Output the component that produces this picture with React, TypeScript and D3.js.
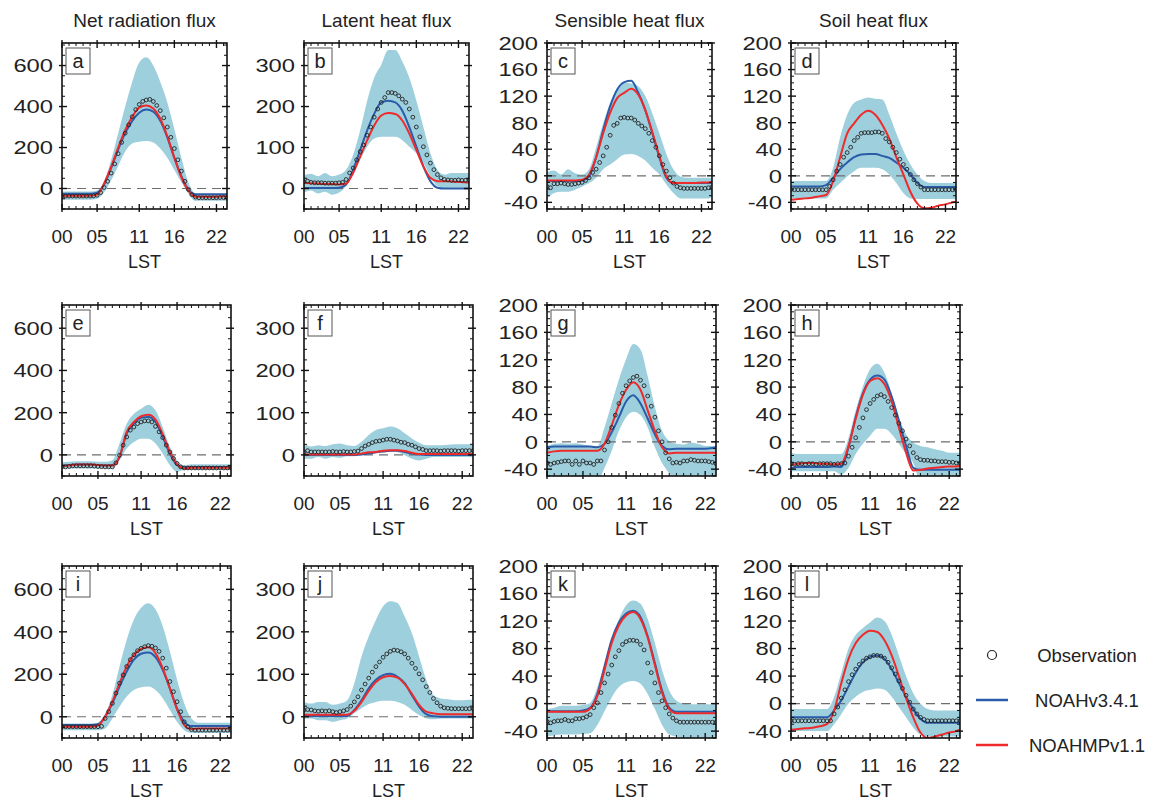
import React from 'react';
import * as d3 from 'd3';

// ---------- categories / ticks ----------
const HALF_HOURS = d3.range(48).map((i) => i / 2);
const HOURS = [...d3.range(24), 23.5];
const X_TICKS = [0, 5, 11, 16, 22];
const X_TICK_LABELS = ['00', '05', '11', '16', '22'];
const TITLES = ['Net radiation flux', 'Latent heat flux', 'Sensible heat flux', 'Soil heat flux'];
const Y_DOMAINS = [[-100, 710], [-50, 355], [-50, 200], [-50, 200]];
const Y_TICKS = [[0, 200, 400, 600], [0, 100, 200, 300], [-40, 0, 40, 80, 120, 160, 200], [-40, 0, 40, 80, 120, 160, 200]];
const Y_MINOR_STEP = [50, 25, 10, 10];
const LEGEND_LABELS = ['Observation', 'NOAHv3.4.1', 'NOAHMPv1.1'];
const PANEL_LETTERS = ['a', 'b', 'c', 'd', 'e', 'f', 'g', 'h', 'i', 'j', 'k', 'l'];

// ---------- data (hourly model/band: 0..23, 23.5; obs half-hourly) ----------
const aUp = [-15,-15,-15,-15,-15,-10,35,140,270,400,520,615,640,600,520,420,290,150,30,-25,-30,-30,-30,-30,-30];
const aLo = [-55,-55,-55,-55,-55,-50,-20,40,110,180,220,228,232,225,195,150,90,30,-25,-60,-60,-60,-60,-60,-60];
const aBlue = [-25,-25,-25,-25,-25,-20,20,100,190,270,330,370,385,375,330,250,150,60,-5,-28,-28,-28,-28,-28,-28];
const aRed = [-35,-35,-35,-35,-35,-30,25,105,200,285,350,395,405,390,340,255,150,55,-10,-40,-40,-40,-40,-38,-38];
const aObs = [-37,-37,-37,-37,-37,-37,-37,-37,-37,-36,-33,-20,5,35,75,120,170,225,270,310,350,385,410,425,432,435,425,405,380,345,300,250,195,140,85,35,-5,-30,-42,-45,-45,-45,-45,-45,-45,-44,-44,-44];

const bUp = [32,36,30,38,30,34,46,82,142,214,270,302,338,338,310,270,214,150,86,46,34,38,38,38,38];
const bLo = [-10,-5,-12,-8,-15,-10,6,38,70,102,122,126,126,126,118,102,86,62,30,6,2,2,2,2,2];
const bBlue = [1,1,1,1,1,2,10,46,94,142,182,210,214,210,190,150,102,54,18,2,0,0,0,0,0];
const bRed = [14,13,12,11,11,10,12,38,78,118,154,178,184,182,166,134,94,54,26,18,18,17,16,15,14];
const bObs = [16,18,15,14,14,14,13,13,13,13,14,15,22,38,50,70,90,106,130,150,174,194,210,222,234,234,232,226,218,210,194,174,150,126,102,82,62,46,34,26,22,21,20,20,21,20,20,21];

const cUp = [5,8,2,10,4,2,10,43,79,110,130,140,139,135,120,94,64,33,10,-1,-3,-3,-3,-3,-3];
const cLo = [-34,-26,-24,-24,-21,-16,-11,-3,10,17,25,32,33,30,23,12,2,-13,-26,-34,-34,-34,-34,-34,-31];
const cBlue = [-8,-8,-8,-8,-8,-7,-1,28,69,105,130,141,143,125,99,64,28,-3,-11,-11,-11,-11,-11,-11,-10];
const cRed = [-7,-7,-7,-7,-7,-6,2,28,64,95,117,125,131,122,99,66,30,-1,-11,-11,-11,-11,-10,-10,-9];
const cObs = [-16,-18,-12,-12,-11,-12,-13,-13,-12,-11,-10,-7,-3,5,10,20,30,43,61,76,79,87,88,87,87,84,79,75,71,64,53,43,30,17,7,-3,-11,-16,-18,-19,-19,-19,-19,-19,-19,-19,-18,-17];

const dUp = [-8,-8,-8,-8,-8,-8,12,58,92,110,115,118,116,115,92,64,38,17,2,-8,-11,-11,-11,-11,-11];
const dLo = [-34,-34,-34,-34,-34,-34,-21,-11,-1,7,12,12,12,10,2,-11,-26,-34,-35,-35,-35,-35,-35,-35,-35];
const dBlue = [-16,-16,-16,-16,-16,-14,-3,10,20,28,32,33,33,30,27,20,12,2,-11,-17,-17,-17,-17,-17,-17];
const dRed = [-36,-35,-34,-33,-31,-29,-8,28,64,79,92,98,92,77,56,28,2,-24,-42,-49,-48,-45,-43,-40,-39];
const dObs = [-21,-21,-21,-21,-21,-21,-21,-21,-21,-21,-21,-16,-6,7,17,28,35,43,53,58,64,65,65,65,66,66,64,56,51,43,35,25,17,10,2,-6,-12,-17,-21,-21,-21,-21,-21,-21,-21,-21,-21,-21];

const eUp = [-35,-32,-30,-30,-30,-32,-33,-25,54,148,195,219,238,211,132,38,-25,-49,-44,-44,-44,-44,-44,-44,-44];
const eLo = [-65,-65,-65,-65,-65,-65,-65,-65,-25,30,61,77,77,54,6,-49,-80,-72,-72,-72,-72,-72,-72,-72,-72];
const eBlue = [-50,-48,-45,-45,-45,-48,-49,-48,-10,101,148,176,180,156,85,6,-49,-60,-57,-57,-57,-57,-57,-57,-57];
const eRed = [-52,-50,-45,-45,-45,-48,-50,-50,-8,109,156,183,190,167,98,14,-44,-65,-61,-61,-61,-61,-61,-61,-61];
const eObs = [-57,-57,-55,-52,-52,-52,-52,-52,-52,-53,-55,-56,-57,-57,-57,-38,-2,46,85,117,132,148,156,161,161,156,135,109,82,46,14,-17,-41,-57,-62,-62,-62,-62,-62,-62,-62,-62,-62,-62,-62,-62,-62,-62];

const fUp = [27,20,23,21,25,27,23,21,31,47,59,63,67,63,51,39,29,23,23,23,24,25,25,25,25];
const fLo = [-9,-9,-5,-9,-5,-7,-3,-3,-1,3,7,10,11,7,-1,-9,-13,-9,-5,-5,-5,-5,-5,-5,-7];
const fBlue = [0,0,0,0,0,0,0,0,1,3,6,8,10,10,7,3,1,0,0,0,0,0,0,0,0];
const fRed = [1,1,1,1,1,1,1,1,3,6,7,10,11,11,9,5,2,2,2,2,2,2,2,2,2];
const fObs = [7,10,7,7,7,7,7,7,8,7,7,8,7,7,8,9,15,21,25,29,32,33,35,37,37,35,33,30,29,25,23,19,15,13,10,10,10,10,9,10,10,10,10,9,10,10,10,10];

const gUp = [-6,-3,-2,-3,-2,-4,-6,-6,21,56,91,121,143,135,96,51,16,1,-3,-4,-1,-3,-6,-6,-6];
const gLo = [-58,-58,-58,-58,-58,-58,-58,-58,-38,-13,16,36,44,39,21,-8,-31,-46,-58,-58,-58,-58,-58,-58,-58];
const gBlue = [-8,-7,-7,-7,-7,-7,-7,-8,-3,14,36,59,68,56,34,11,-6,-11,-10,-10,-10,-10,-10,-9,-8];
const gRed = [-16,-14,-13,-13,-13,-13,-13,-13,-3,24,54,76,87,76,46,16,-8,-17,-16,-16,-16,-16,-16,-16,-16];
const gObs = [-31,-33,-31,-30,-29,-28,-28,-33,-28,-33,-28,-31,-31,-33,-28,-28,-12,0,21,39,56,71,82,89,94,96,90,82,67,52,36,16,0,-16,-25,-31,-30,-31,-28,-28,-26,-27,-28,-28,-28,-29,-30,-32];

const hUp = [-16,-18,-18,-18,-18,-18,-18,-18,6,46,81,106,114,101,71,36,11,-1,-6,-8,-11,-13,-16,-16,-16];
const hLo = [-43,-43,-43,-43,-43,-43,-43,-48,-38,-18,-3,9,19,19,11,-3,-18,-31,-58,-58,-58,-58,-58,-58,-58];
const hBlue = [-39,-37,-37,-37,-37,-37,-36,-37,-8,36,71,91,97,91,66,31,-6,-38,-41,-41,-41,-41,-41,-41,-41];
const hRed = [-34,-32,-31,-31,-32,-32,-33,-32,-6,34,69,89,93,84,59,21,-16,-42,-41,-39,-38,-37,-36,-36,-35];
const hObs = [-32,-33,-32,-32,-33,-32,-32,-33,-32,-32,-32,-32,-33,-32,-32,-31,-21,-8,6,21,35,47,56,62,67,69,66,59,50,39,27,16,4,-6,-16,-23,-26,-27,-27,-28,-28,-29,-29,-29,-30,-30,-31,-31];

const iUp = [-32,-32,-32,-32,-32,-28,16,103,237,363,458,513,534,506,427,308,174,63,-8,-28,-28,-28,-28,-28,-28];
const iLo = [-63,-63,-63,-63,-63,-63,-55,-8,47,95,126,139,142,126,87,32,-24,-63,-76,-76,-76,-76,-76,-76,-76];
const iBlue = [-39,-39,-39,-39,-39,-35,0,63,142,213,269,297,303,281,221,134,39,-24,-44,-44,-44,-44,-44,-44,-44];
const iRed = [-47,-47,-47,-47,-47,-41,0,71,158,237,292,319,327,300,229,134,35,-39,-58,-55,-55,-55,-55,-55,-55];
const iObs = [-47,-47,-47,-47,-47,-47,-47,-47,-47,-47,-47,-45,-8,24,63,111,158,197,237,269,292,311,322,330,335,332,324,308,276,229,166,118,71,24,-24,-47,-60,-63,-63,-63,-63,-63,-63,-63,-63,-63,-63,-63];

const jUp = [35,31,35,35,28,31,39,79,142,189,228,260,272,268,236,197,142,87,51,43,41,39,39,40,40];
const jLo = [-4,-4,-8,-8,-12,-8,-4,8,20,30,35,38,38,35,28,16,4,-4,-6,-4,-4,-4,-4,-4,-4];
const jBlue = [2,2,2,2,2,2,2,16,39,67,87,98,101,94,79,51,24,6,1,0,0,0,0,0,0];
const jRed = [5,5,5,5,5,5,5,14,35,61,82,93,96,92,77,54,28,12,8,6,6,6,6,6,6];
const jObs = [16,17,16,14,13,14,13,14,12,10,12,14,17,25,35,47,63,77,91,105,118,129,140,148,154,157,156,153,148,138,126,114,101,87,71,57,43,33,25,21,20,19,19,19,19,19,19,19];

const kUp = [-8,-6,-3,-3,-3,-2,1,24,59,93,123,143,150,145,123,88,49,19,4,0,-1,-1,-1,-1,-1];
const kLo = [-48,-46,-45,-45,-45,-44,-43,-31,-11,9,24,31,33,29,14,-8,-31,-45,-48,-50,-50,-50,-50,-50,-50];
const kBlue = [-11,-11,-11,-11,-11,-10,-6,14,54,93,118,131,135,126,98,59,19,-6,-12,-12,-12,-12,-12,-12,-12];
const kRed = [-12,-12,-12,-12,-12,-12,-7,11,49,88,114,128,133,123,96,56,16,-8,-14,-14,-14,-14,-14,-14,-14];
const kObs = [-26,-28,-26,-25,-25,-23,-25,-25,-22,-22,-21,-19,-16,-6,1,16,30,43,56,68,77,86,90,92,92,91,86,78,59,45,30,16,4,-6,-15,-21,-25,-27,-27,-27,-27,-27,-27,-27,-27,-27,-27,-27];

const lUp = [-8,-8,-8,-8,-8,-8,10,45,80,100,110,118,125,120,100,70,40,15,0,-8,-10,-10,-10,-10,-10];
const lLo = [-40,-40,-40,-40,-40,-40,-30,-15,0,10,17,20,22,20,10,-5,-20,-35,-45,-48,-48,-48,-48,-48,-48];
const lBlue = [-20,-20,-20,-20,-20,-20,-10,5,25,45,60,68,70,65,50,30,10,-8,-22,-28,-28,-28,-28,-28,-28];
const lRed = [-38,-37,-36,-35,-33,-30,-10,30,65,88,100,106,104,92,70,40,8,-20,-42,-50,-48,-45,-42,-40,-38];
const lObs = [-25,-25,-25,-25,-25,-25,-25,-25,-25,-25,-25,-25,-15,-5,8,20,32,42,50,57,62,66,68,70,70,69,66,60,52,43,33,22,12,2,-8,-15,-20,-23,-25,-25,-25,-25,-25,-25,-25,-25,-25,-25];

const SERIES = [
  [aUp, aLo, aBlue, aRed, aObs], [bUp, bLo, bBlue, bRed, bObs], [cUp, cLo, cBlue, cRed, cObs], [dUp, dLo, dBlue, dRed, dObs],
  [eUp, eLo, eBlue, eRed, eObs], [fUp, fLo, fBlue, fRed, fObs], [gUp, gLo, gBlue, gRed, gObs], [hUp, hLo, hBlue, hRed, hObs],
  [iUp, iLo, iBlue, iRed, iObs], [jUp, jLo, jBlue, jRed, jObs], [kUp, kLo, kBlue, kRed, kObs], [lUp, lLo, lBlue, lRed, lObs],
];

// ---------- layout ----------
const W = 1156, H = 803;
const COL_LEFT = [62, 304, 547, 791];
const ROW_TOP = [43, 305, 566];
const ROW_H = [166, 171, 172];
const ROW_W = [165, 169, 169];
const FONT = "'Liberation Sans', Arial, Helvetica, sans-serif";
const BAND = '#9ecfdd';
const BLUE = '#2a5caa';
const RED = '#ee2a2a';

function Panel({ idx }: { idx: number }) {
  const row = Math.floor(idx / 4), col = idx % 4;
  const x0 = COL_LEFT[col], y0 = ROW_TOP[row], w = ROW_W[row], h = ROW_H[row];
  const [up, lo, blue, red, obs] = SERIES[idx];
  const x = d3.scaleLinear().domain([0, 23.5]).range([x0, x0 + w]);
  const y = d3.scaleLinear().domain(Y_DOMAINS[col]).range([y0 + h, y0]);
  const area = d3.area<number>().x((_, i) => x(HOURS[i])).y0((_, i) => y(lo[i])).y1((d) => y(d)).curve(d3.curveMonotoneX);
  const line = d3.line<number>().x((_, i) => x(HOURS[i])).y((d) => y(d)).curve(d3.curveMonotoneX);
  const clipId = `clip-${idx}`;
  const [ymin, ymax] = Y_DOMAINS[col];
  const minor = d3.range(Math.ceil(ymin / Y_MINOR_STEP[col]) * Y_MINOR_STEP[col], ymax + 0.001, Y_MINOR_STEP[col]).filter((v) => !Y_TICKS[col].includes(v));
  const xMinor = d3.range(0, 24, 1).filter((v) => !X_TICKS.includes(v));
  const bottom = y0 + h;
  return (
    <g>
      <defs>
        <clipPath id={clipId}><rect x={x0} y={y0} width={w} height={h} /></clipPath>
      </defs>
      <g clipPath={`url(#${clipId})`}>
        <path d={area(up) || ''} fill={BAND} stroke="none" />
        <line x1={x0} x2={x0 + w} y1={y(0)} y2={y(0)} stroke="#6e6e6e" strokeWidth={1.2} strokeDasharray="9,6" />
        <path d={line(blue) || ''} fill="none" stroke={BLUE} strokeWidth={2} />
        <path d={line(red) || ''} fill="none" stroke={RED} strokeWidth={2} />
        {obs.map((v, i) => (
          <circle key={i} cx={x(HALF_HOURS[i])} cy={y(v)} r={1.9} fill="none" stroke="#222" strokeWidth={0.9} />
        ))}
      </g>
      <rect x={x0} y={y0} width={w} height={h} fill="none" stroke="#111" strokeWidth={1.6} />
      {/* y ticks */}
      {Y_TICKS[col].map((v) => (
        <g key={`yt${v}`}>
          <line x1={x0 - 3} x2={x0 + 5} y1={y(v)} y2={y(v)} stroke="#111" strokeWidth={1.4} />
          <line x1={x0 + w - 5} x2={x0 + w + 3} y1={y(v)} y2={y(v)} stroke="#111" strokeWidth={1.4} />
          <text transform={`translate(${x0 - 9},${y(v)}) scale(1.25,1)`} dy="0.36em" textAnchor="end" fontSize={19} fontFamily={FONT} fill="#222">{v}</text>
        </g>
      ))}
      {minor.map((v) => (
        <g key={`ym${v}`}>
          <line x1={x0} x2={x0 + 3} y1={y(v)} y2={y(v)} stroke="#111" strokeWidth={1} />
          <line x1={x0 + w - 3} x2={x0 + w} y1={y(v)} y2={y(v)} stroke="#111" strokeWidth={1} />
        </g>
      ))}
      {/* x ticks */}
      {X_TICKS.map((v, i) => (
        <g key={`xt${v}`}>
          <line x1={x(v)} x2={x(v)} y1={bottom + 3} y2={bottom - 5} stroke="#111" strokeWidth={1.4} />
          <line x1={x(v)} x2={x(v)} y1={y0 - 3} y2={y0 + 5} stroke="#111" strokeWidth={1.4} />
          <text x={x(v)} y={bottom + 27} dy="0.36em" textAnchor="middle" fontSize={19} fontFamily={FONT} fill="#222">{X_TICK_LABELS[i]}</text>
        </g>
      ))}
      {xMinor.map((v) => (
        <g key={`xm${v}`}>
          <line x1={x(v)} x2={x(v)} y1={bottom} y2={bottom - 3} stroke="#111" strokeWidth={1} />
          <line x1={x(v)} x2={x(v)} y1={y0} y2={y0 + 3} stroke="#111" strokeWidth={1} />
        </g>
      ))}
      <text x={x0 + w / 2} y={bottom + 53} dy="0.36em" textAnchor="middle" fontSize={18} fontFamily={FONT} fill="#222">LST</text>
      {/* panel letter */}
      <rect x={x0 + 4} y={y0 + 5} width={24} height={26} fill="#fff" stroke="#555" strokeWidth={1} />
      <text x={x0 + 16} y={y0 + 18} dy="0.36em" textAnchor="middle" fontSize={20} fontFamily={FONT} fill="#222">{PANEL_LETTERS[idx]}</text>
      {row === 0 && (
        <text x={x0 + w / 2} y={20} dy="0.36em" textAnchor="middle" fontSize={19} fontFamily={FONT} fill="#222">{TITLES[col]}</text>
      )}
    </g>
  );
}

export default function App() {
  const legendY = [655, 700, 745];
  return (
    <svg width={W} height={H} viewBox={`0 0 ${W} ${H}`} style={{ position: 'absolute', left: 0, top: 0, background: '#fff' }}>
      <rect x={0} y={0} width={W} height={H} fill="#fff" />
      {SERIES.map((_, i) => <Panel key={i} idx={i} />)}
      {/* legend */}
      <circle cx={992} cy={legendY[0]} r={4.5} fill="none" stroke="#222" strokeWidth={1.2} />
      <line x1={976} x2={1008} y1={legendY[1]} y2={legendY[1]} stroke={BLUE} strokeWidth={2.5} />
      <line x1={976} x2={1008} y1={legendY[2]} y2={legendY[2]} stroke={RED} strokeWidth={2.5} />
      {LEGEND_LABELS.map((t, i) => (
        <text key={t} x={1087} y={legendY[i]} dy="0.36em" textAnchor="middle" fontSize={18.5} fontFamily={FONT} fill="#222">{t}</text>
      ))}
    </svg>
  );
}
